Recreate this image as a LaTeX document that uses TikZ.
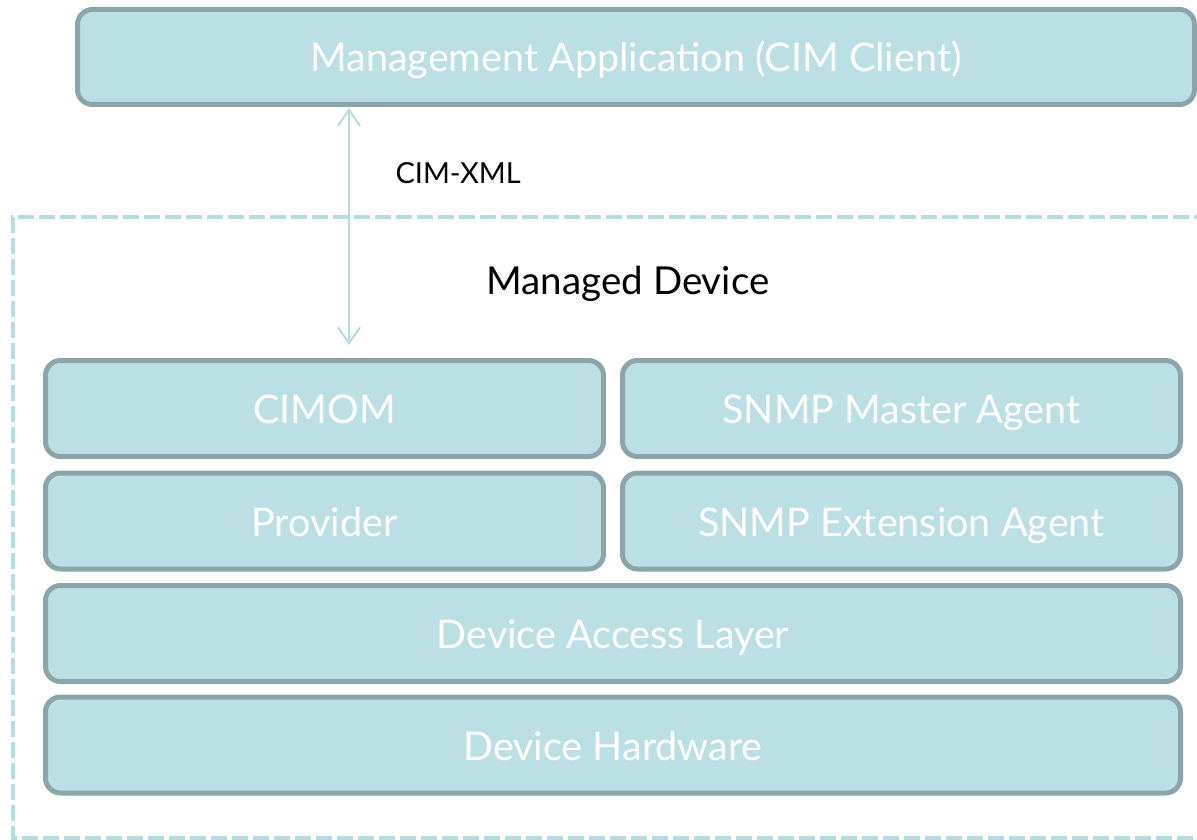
\documentclass[tikz,border=0pt]{standalone}
\usepackage{fontspec}
\setmainfont{Lato}
\usetikzlibrary{arrows.meta, positioning}

\definecolor{boxfill}{HTML}{BBE0E3}
\definecolor{boxline}{HTML}{8BA6A8}
\definecolor{linkcol}{HTML}{B5DDE0}

\begin{document}
\begin{tikzpicture}[
      x=1pt, y=-1pt,
      blk/.style={rectangle, rounded corners=15pt, draw=boxline, line width=5pt, fill=boxfill,
        text=white, inner sep=0pt, text height=36pt, text depth=6pt, font=\fontsize{39.5}{46}\selectfont},
      half/.style={blk, minimum width=558pt, minimum height=96pt},
      full/.style={blk, minimum width=1135pt, minimum height=96pt},
    ]
      \useasboundingbox (0,0) rectangle (1197,840);
      % managed device frame
      \draw[linkcol, line width=4pt, dash pattern=on 16pt off 5pt] (1210,217) -- (13,217) -- (13,838) -- (1210,838);
      \node[blk, minimum width=1117pt, minimum height=95pt] (mgmt) at (636,57) {Management Application (CIM Client)};
      \node[font=\fontsize{38.5}{45}\selectfont] (dev) at (628,284) {Managed Device};
      \node[half] (cimom)  at (324.5,408.5) {CIMOM};
      \node[half] (master) at (901.5,408.5) {SNMP Master Agent};
      \node[half] (prov)   at (324.5,521) {Provider};
      \node[half] (ext)    at (901.5,521) {SNMP Extension Agent};
      \node[full] (access) at (613,633.5) {Device Access Layer};
      \node[full] (hw)     at (613,745) {Device Hardware};
      % cim-xml link
      \coordinate (lx) at (349,0);
      \draw[linkcol, line width=2pt, {Straight Barb[length=16pt,width=22pt]}-{Straight Barb[length=16pt,width=22pt]},
        shorten <=1pt, shorten >=13pt] (mgmt.south -| lx) -- (cimom.north -| lx);
      \node[font=\fontsize{29}{34}\selectfont, right] (xml) at (392,173) {CIM-XML};
    \end{tikzpicture}
\end{document}
